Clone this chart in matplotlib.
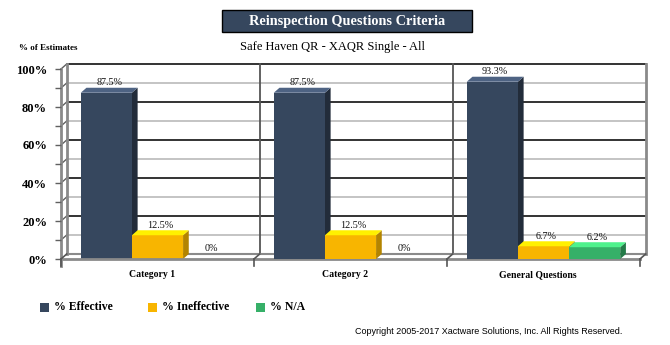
import matplotlib
matplotlib.use("Agg")
import matplotlib.pyplot as plt
from matplotlib.patches import Polygon, Rectangle

categories = ["Category 1", "Category 2", "General Questions"]
series = ["% Effective", "% Ineffective", "% N/A"]
effective = [87.5, 87.5, 93.3]
ineffective = [12.5, 12.5, 6.7]
not_applicable = [0, 0, 6.2]
values = [effective, ineffective, not_applicable]
labels = [["87.5%", "87.5%", "93.3%"], ["12.5%", "12.5%", "6.7%"], ["0%", "0%", "6.2%"]]

front = ["#36475e", "#f8b500", "#36b068"]
top = ["#4e6383", "#fff000", "#4ef28c"]
side = ["#222c3a", "#b38400", "#247a48"]

W, H = 670, 345
fig = plt.figure(figsize=(W / 100, H / 100), dpi=100)
plt.rcParams['font.family'] = ['Liberation Serif', 'DejaVu Serif']

def fx(px):
    return px / W

def fy(py):
    return 1 - py / H

ax = fig.add_axes([fx(61), fy(259), 579 / W, 190 / H])
ax.set_xlim(0, 3)
ax.set_ylim(0, 100)
for s in ax.spines.values():
    s.set_visible(False)
ax.patch.set_visible(False)

dx = 0.0295
dy = 2.63
gray = "#8a8a8a"

# back wall grid
for v in range(10, 101, 10):
    col = "#333333" if v % 20 == 0 else "#c4c4c4"
    ax.plot([dx, 3 + dx], [v + dy, v + dy], color=col, lw=1.4, clip_on=False, zorder=1)
    ax.plot([0, dx], [v, v + dy], color="#606060", lw=1, clip_on=False, zorder=1)
for c in (1, 2):
    ax.plot([c + dx, c + dx], [dy, 100 + dy], color="#555555", lw=1.3, clip_on=False, zorder=1)
ax.plot([dx, dx], [dy, 100 + dy], color=gray, lw=2, clip_on=False, zorder=1)
ax.plot([3 + dx, 3 + dx], [dy, 100 + dy], color=gray, lw=2, clip_on=False, zorder=1)
ax.plot([0, 0], [-3.8, 100], color=gray, lw=2, clip_on=False, zorder=1)
# floor
ax.plot([dx, 3 + dx], [dy, dy], color=gray, lw=1.5, clip_on=False, zorder=1)
ax.plot([0, 3], [0, 0], color=gray, lw=2, clip_on=False, zorder=6)
for c in range(4):
    ax.plot([c, c + dx], [0, dy], color="#555555", lw=1.2, clip_on=False, zorder=6)
    ax.plot([c, c], [-3.8, 0], color="#555555", lw=1.2, clip_on=False, zorder=6)

bw = 0.265
z = 2
for i in range(3):
    for j, vals in enumerate(values):
        x0 = i + 0.5 + (j - 1) * bw - bw / 2
        x1 = x0 + bw
        h = vals[i]
        if h > 0:
            ax.bar(x0, h, width=bw, align="edge", color=front[j], zorder=z + 1, clip_on=False)
            ax.add_patch(Polygon([(x0, h), (x0 + dx, h + dy), (x1 + dx, h + dy), (x1, h)],
                                 closed=True, facecolor=top[j], edgecolor="none", zorder=z + 1, clip_on=False))
            ax.add_patch(Polygon([(x1, 0), (x1 + dx, dy), (x1 + dx, h + dy), (x1, h)],
                                 closed=True, facecolor=side[j], edgecolor="none", zorder=z, clip_on=False))
        ax.text((x0 + x1) / 2 + dx / 2, h + dy + 0.3, labels[j][i], ha="center", va="bottom",
                fontsize=7.3, color="#111111", zorder=10)
        z += 2

ax.set_yticks(range(0, 101, 20))
ax.set_yticklabels([f"{v}%" for v in range(0, 101, 20)], fontsize=9, fontweight="bold")
ax.set_yticks(range(10, 100, 20), minor=True)
ax.tick_params(axis="y", which="both", length=4, width=1, color="#606060", pad=6)
ax.set_xticks([i + 0.47 for i in range(3)])
ax.set_xticklabels(categories, fontsize=7, fontweight="bold")
ax.tick_params(axis="x", length=0, pad=8)

# title box
fig.patches.append(Rectangle((fx(222), fy(32)), 250 / W, 22 / H, transform=fig.transFigure,
                             facecolor="#36475e", edgecolor="black", lw=1))
fig.text(fx(347), fy(21), "Reinspection Questions Criteria", ha="center", va="center",
         color="white", fontsize=10.3, fontweight="bold")
fig.text(fx(332), fy(47), "Safe Haven QR - XAQR Single - All", ha="center", va="center", fontsize=9)
fig.text(fx(19), fy(48), "% of Estimates", ha="left", va="center", fontsize=6.5, fontweight="bold")

# legend
for k, name in enumerate(series):
    lx = 40 + k * 108
    fig.patches.append(Rectangle((fx(lx), fy(312)), 9 / W, 9 / H, transform=fig.transFigure,
                                 facecolor=front[k], edgecolor="none"))
    fig.text(fx(lx + 14), fy(307.5), name, ha="left", va="center", fontsize=8.5, fontweight="bold")

fig.text(fx(622), fy(332), "Copyright 2005-2017 Xactware Solutions, Inc. All Rights Reserved.",
         ha="right", va="center", fontsize=6.5, family=["Liberation Sans", "DejaVu Sans"])

fig.savefig("out.png", dpi=100)
